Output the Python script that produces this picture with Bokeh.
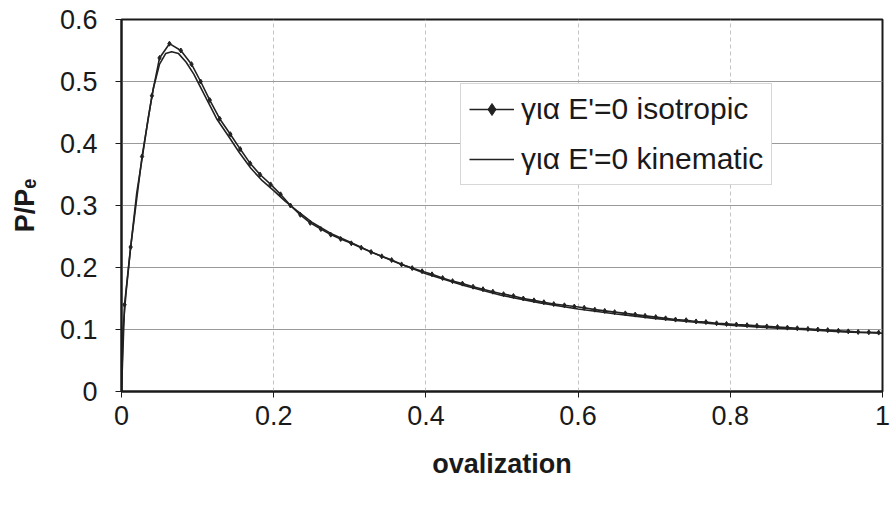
from bokeh.plotting import figure
from bokeh.models import Range1d, Legend, LegendItem, FixedTicker
from bokeh.embed import file_html
from bokeh.resources import INLINE

# ---- data ----
iso_x = [0, 0.004, 0.012, 0.027, 0.040, 0.050, 0.063, 0.078, 0.092, 0.104, 0.116, 0.129,
         0.143, 0.156, 0.169, 0.182, 0.196, 0.209, 0.222, 0.235, 0.248, 0.262, 0.275,
         0.288, 0.302, 0.315, 0.328, 0.342, 0.355, 0.368, 0.382, 0.395, 0.408, 0.422,
         0.435, 0.448, 0.462, 0.475, 0.488, 0.502, 0.515, 0.528, 0.542, 0.555, 0.568,
         0.582, 0.595, 0.608, 0.622, 0.635, 0.648, 0.662, 0.675, 0.688, 0.702, 0.715,
         0.728, 0.742, 0.755, 0.768, 0.782, 0.795, 0.808, 0.822, 0.835, 0.848, 0.862,
         0.875, 0.888, 0.902, 0.915, 0.928, 0.942, 0.955, 0.968, 0.982, 0.995]
iso_y = [0, 0.140, 0.233, 0.379, 0.477, 0.538, 0.561, 0.550, 0.528, 0.500, 0.470, 0.440,
         0.415, 0.391, 0.368, 0.350, 0.334, 0.318, 0.300, 0.285, 0.272, 0.262, 0.253,
         0.246, 0.239, 0.232, 0.225, 0.218, 0.212, 0.205, 0.199, 0.194, 0.189, 0.183,
         0.178, 0.174, 0.169, 0.165, 0.161, 0.157, 0.154, 0.150, 0.147, 0.144, 0.141,
         0.139, 0.137, 0.135, 0.132, 0.130, 0.128, 0.126, 0.124, 0.122, 0.120, 0.118,
         0.116, 0.115, 0.113, 0.112, 0.110, 0.109, 0.108, 0.107, 0.106, 0.105, 0.104,
         0.103, 0.102, 0.101, 0.100, 0.099, 0.098, 0.097, 0.096, 0.0955, 0.095]

kin_x = [0, 0.002, 0.006, 0.012, 0.020, 0.027, 0.035, 0.042, 0.050, 0.058, 0.066, 0.075,
         0.085, 0.095, 0.110, 0.125, 0.140, 0.155, 0.170, 0.185, 0.200, 0.215, 0.230,
         0.250, 0.275, 0.300, 0.330, 0.360, 0.400, 0.450, 0.500, 0.550, 0.600, 0.650,
         0.700, 0.750, 0.800, 0.850, 0.900, 0.950, 1.000]
kin_y = [0, 0.100, 0.160, 0.232, 0.320, 0.375, 0.440, 0.490, 0.528, 0.545, 0.548, 0.545,
         0.531, 0.512, 0.476, 0.440, 0.413, 0.385, 0.360, 0.340, 0.324, 0.307, 0.292,
         0.273, 0.255, 0.241, 0.224, 0.209, 0.190, 0.171, 0.155, 0.143, 0.133, 0.125,
         0.118, 0.112, 0.107, 0.103, 0.0995, 0.096, 0.094]

x_ticks = [0, 0.2, 0.4, 0.6, 0.8, 1.0]
y_ticks = [0, 0.1, 0.2, 0.3, 0.4, 0.5, 0.6]
x_tick_labels = {0: "0", 0.2: "0.2", 0.4: "0.4", 0.6: "0.6", 0.8: "0.8", 1.0: "1"}
y_tick_labels = {0: "0", 0.1: "0.1", 0.2: "0.2", 0.3: "0.3", 0.4: "0.4", 0.5: "0.5", 0.6: "0.6"}

series_names = ["για E'=0 isotropic", "για E'=0 kinematic"]
x_title = "ovalization"
y_title = "P/P\u2091"

FONT = "Liberation Sans"

p = figure(width=891, height=506, output_backend="svg", toolbar_location=None,
           x_range=Range1d(0, 1), y_range=Range1d(0, 0.6),
           min_border_left=121, min_border_right=9, min_border_top=19, min_border_bottom=115)
p.background_fill_color = "white"
p.border_fill_color = "white"
p.outline_line_color = "#1a1a1a"
p.outline_line_width = 2

# grids
p.xgrid.ticker = FixedTicker(ticks=x_ticks)
p.ygrid.ticker = FixedTicker(ticks=y_ticks)
p.ygrid.grid_line_color = "#9a9a9a"
p.ygrid.grid_line_width = 1
p.xgrid.grid_line_color = "#c4c4c4"
p.xgrid.grid_line_width = 1
p.xgrid.grid_line_dash = "4 3"

# axes
for ax, ticks, labels in ((p.xaxis[0], x_ticks, x_tick_labels), (p.yaxis[0], y_ticks, y_tick_labels)):
    ax.ticker = FixedTicker(ticks=ticks)
    ax.major_label_overrides = labels
    ax.axis_line_color = "#1a1a1a"
    ax.axis_line_width = 2
    ax.major_tick_line_color = "#1a1a1a"
    ax.major_tick_out = 6
    ax.major_tick_in = 0
    ax.minor_tick_line_color = None
    ax.major_label_text_font = FONT
    ax.major_label_text_font_size = "27px"
    ax.major_label_text_color = "#1a1a1a"
    ax.axis_label_text_font = FONT
    ax.axis_label_text_font_size = "27px"
    ax.axis_label_text_font_style = "bold"
    ax.axis_label_text_color = "#1a1a1a"

p.yaxis[0].major_label_standoff = 18
p.xaxis[0].major_label_standoff = 8
p.xaxis[0].axis_label = x_title
p.xaxis[0].axis_label_standoff = 21
p.yaxis[0].axis_label = y_title
p.yaxis[0].axis_label_standoff = 17

# series
iso_line = p.line(iso_x, iso_y, line_color="#222222", line_width=1.6)
iso_pts = p.scatter(iso_x, iso_y, marker="diamond", size=5, fill_color="#222222",
                    line_color="#222222")
kin_line = p.line(kin_x, kin_y, line_color="#222222", line_width=1.6)

legend = Legend(items=[LegendItem(label=series_names[0], renderers=[iso_line, iso_pts]),
                       LegendItem(label=series_names[1], renderers=[kin_line])],
                location=(339, 206))
legend.label_text_font = FONT
legend.label_text_font_size = "30px"
legend.label_text_color = "#1a1a1a"
legend.glyph_width = 45
legend.glyph_height = 30
legend.label_height = 30
legend.spacing = 16
legend.padding = 8
legend.margin = 0
legend.label_standoff = 7
legend.border_line_color = "#b0b0b0"
legend.border_line_width = 1
legend.background_fill_color = "white"
legend.background_fill_alpha = 1
p.add_layout(legend, "center")

open("out.html", "w").write(file_html(p, INLINE))
